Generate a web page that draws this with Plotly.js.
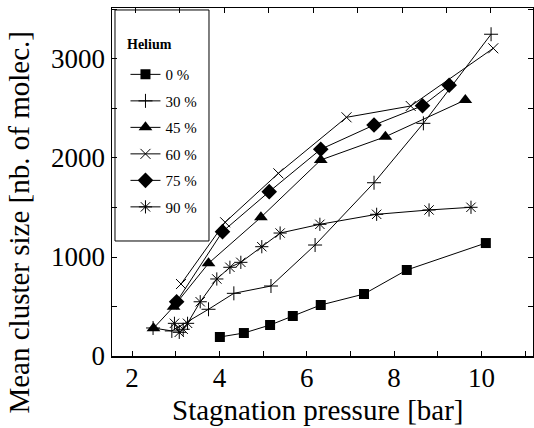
<!DOCTYPE html>
<html>
<head>
<meta charset="utf-8">
<script src="https://cdn.plot.ly/plotly-3.0.1.min.js"></script>
<style>
html,body{margin:0;padding:0;background:#fff;}
#chart{width:534px;height:428px;}
</style>
</head>
<body>
<div id="chart"></div>
<script>
// Helium fraction series: stagnation pressure [bar] and mean cluster size [nb. of molec.]
const seriesNames = ["0 %", "30 %", "45 %", "60 %", "75 %", "90 %"];

const p0 = [4.01, 4.56, 5.16, 5.68, 6.32, 7.31, 8.29, 10.1];
const n0 = [192, 232, 313, 404, 515, 626, 869, 1141];

const p30 = [2.48, 2.91, 3.75, 4.33, 5.18, 6.19, 7.54, 8.67, 10.22];
const n30 = [283, 253, 472, 633, 707, 1121, 1750, 2350, 3250];

const p45 = [2.49, 2.95, 3.75, 4.95, 6.32, 7.80, 9.63];
const n45 = [280, 498, 936, 1401, 1980, 2215, 2586];

const p60 = [3.12, 4.13, 5.35, 6.91, 8.38, 10.27];
const n60 = [727, 1351, 1845, 2411, 2525, 3108];

const p75 = [3.02, 4.07, 5.14, 6.32, 7.54, 8.65, 9.26];
const n75 = [548, 1256, 1660, 2088, 2333, 2528, 2734];

const p90 = [2.97, 3.08, 3.17, 3.27, 3.56, 3.94, 4.24, 4.49, 4.97, 5.39, 6.30, 7.60, 8.80, 9.76];
const n90 = [330, 239, 270, 330, 548, 778, 896, 946, 1104, 1242, 1330, 1431, 1475, 1502];

const xTickVals = [2, 4, 6, 8, 10];
const yTickVals = [0, 1000, 2000, 3000];

const FONT = "Liberation Serif";

const markerStyles = [
  {symbol: "square", size: 10, color: "#000"},
  {symbol: "cross-thin-open", size: 10, color: "#000", line: {width: 1, color: "#000"}},
  {symbol: "triangle-up", size: 12, color: "#000"},
  {symbol: "x-thin-open", size: 10, color: "#000", line: {width: 1, color: "#000"}},
  {symbol: "diamond", size: 12, color: "#000"},
  {symbol: "asterisk-open", size: 11, color: "#000", line: {width: 1, color: "#000"}}
];

const xs = [p0, p30, p45, p60, p75, p90];
const ys = [n0, n30, n45, n60, n75, n90];

const traces = xs.map((x, i) => ({
  x: x, y: ys[i],
  type: "scatter", mode: "lines+markers",
  name: seriesNames[i],
  legendgroup: "g" + i,
  line: {color: "#000", width: 1},
  marker: markerStyles[i],
  cliponaxis: false
}));

// invisible trace on the top axis (its tick row sits slightly offset in the original)
traces.push({x: [2], y: [0], xaxis: "x2", yaxis: "y", mode: "markers",
  marker: {opacity: 0}, showlegend: false, hoverinfo: "skip"});

const layout = {
  width: 534, height: 428,
  margin: {l: 112, r: 1, t: 8, b: 72},
  paper_bgcolor: "#fff", plot_bgcolor: "#fff",
  font: {family: FONT, color: "#000", size: 27},
  showlegend: true,
  legend: {
    x: 0.032, y: 0.856, xanchor: "left", yanchor: "top",
    bgcolor: "rgba(0,0,0,0)", borderwidth: 0,
    font: {family: FONT, size: 15, color: "#000"},
    traceorder: "grouped", tracegroupgap: 4
  },
  xaxis: {
    range: [1.54, 11.18], tickvals: xTickVals, ticks: "inside", ticklen: 5, tickwidth: 1,
    tickcolor: "#000", showline: true, linecolor: "#000", linewidth: 1.5, mirror: true,
    showgrid: false, zeroline: false, ticklabelstandoff: -3,
    minor: {dtick: 1, tick0: 1, ticks: "inside", ticklen: 5, tickwidth: 1, tickcolor: "#000", showgrid: false},
    tickfont: {family: FONT, size: 27}
  },
  xaxis2: {
    overlaying: "x", side: "top", range: [1.483, 10.944], tickvals: xTickVals,
    ticks: "inside", ticklen: 5, tickwidth: 1, tickcolor: "#000", showticklabels: false,
    showline: false, showgrid: false, zeroline: false,
    minor: {dtick: 1, tick0: 1, ticks: "inside", ticklen: 5, tickwidth: 1, tickcolor: "#000", showgrid: false}
  },
  yaxis: {
    range: [0, 3515], tickvals: yTickVals, ticks: "inside", ticklen: 5, tickwidth: 1,
    tickcolor: "#000", showline: true, linecolor: "#000", linewidth: 1.5, mirror: "ticks",
    showgrid: false, zeroline: false,
    minor: {dtick: 500, tick0: 0, ticks: "inside", ticklen: 5, tickwidth: 1, tickcolor: "#000", showgrid: false},
    tickfont: {family: FONT, size: 27}
  },
  shapes: [{
    type: "rect", xref: "paper", yref: "paper",
    x0: 0.0071, x1: 0.2304, y0: 0.3305, y1: 0.9943,
    line: {color: "#000", width: 1}, fillcolor: "rgba(0,0,0,0)"
  }],
  annotations: [
    {text: "<b>Helium</b>", xref: "paper", yref: "paper", x: 0.03, y: 0.894,
     xanchor: "left", yanchor: "middle", showarrow: false, font: {family: FONT, size: 14}},
    {text: "Stagnation pressure [bar]", xref: "paper", yref: "paper", x: 0.49, y: -0.155,
     xanchor: "center", yanchor: "middle", showarrow: false, font: {family: FONT, size: 29}},
    {text: "Mean cluster size [nb. of molec.]", xref: "paper", yref: "paper", x: -0.222, y: 0.385,
     xanchor: "center", yanchor: "middle", textangle: -90, showarrow: false, font: {family: FONT, size: 29}}
  ]
};

Plotly.newPlot("chart", traces, layout, {displayModeBar: false, staticPlot: true});
</script>
</body>
</html>
